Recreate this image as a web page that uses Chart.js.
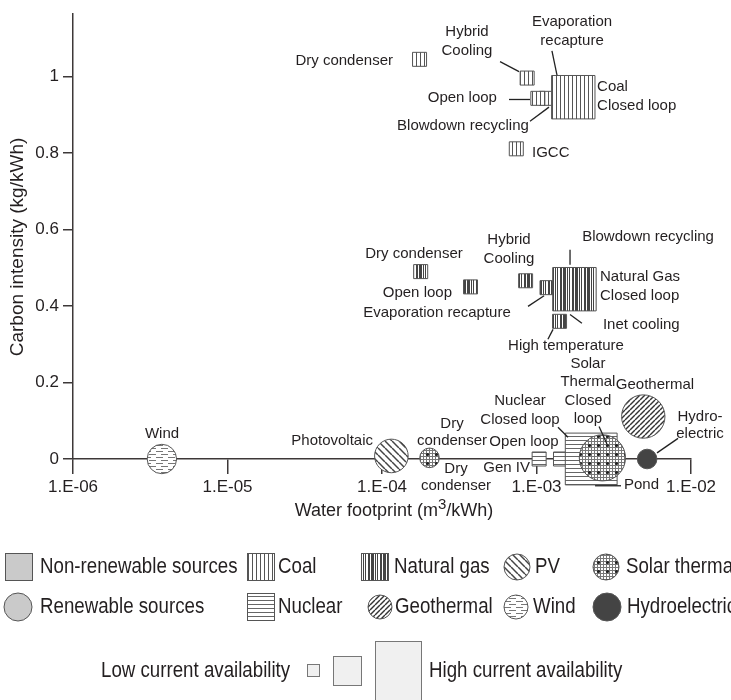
<!DOCTYPE html>
<html>
<head>
<meta charset="utf-8">
<script src="https://cdn.jsdelivr.net/npm/chart.js@4.4.0/dist/chart.umd.min.js"></script>
<style>
  html, body { margin: 0; padding: 0; background: #fff; }
  #wrap { width: 731px; height: 700px; }
</style>
</head>
<body>
<div id="wrap"><canvas id="c" width="731" height="700"></canvas></div>
<script>
// water footprint (m3/kWh), carbon intensity (kg/kWh), current availability (relative)
const coalNames = ["Dry condenser", "Hybrid cooling", "Blowdown recycling", "Open loop", "Closed loop", "IGCC"];
const coalWater = [1.75e-4, 8.7e-4, 1.16e-3, 1.02e-3, 1.73e-3, 7.4e-4];
const coalCarbon = [1.045, 0.996, 0.943, 0.943, 0.946, 0.811];
const coalAvail = [1, 1, 1, 1, 3.1, 1];

const gasNames = ["Dry condenser", "Open loop", "Hybrid cooling", "Evaporation recapture", "Closed loop", "High temperature"];
const gasWater = [1.78e-4, 3.74e-4, 8.5e-4, 1.17e-3, 1.76e-3, 1.41e-3];
const gasCarbon = [0.49, 0.45, 0.466, 0.448, 0.444, 0.36];
const gasAvail = [1, 1, 1, 1, 3.1, 1];

const nuclearNames = ["Gen IV", "Open loop", "Closed loop"];
const nuclearWater = [1.04e-3, 1.43e-3, 2.26e-3];
const nuclearCarbon = [0.0, 0.0, 0.0];
const nuclearAvail = [1, 1, 3.7];

const windWater = [3.76e-6];       const windCarbon = [0.0];     const windAvail = [2.1];
const pvWater = [1.15e-4];         const pvCarbon = [0.008];     const pvAvail = [2.4];
const solarNames = ["Dry condenser", "Closed loop"];
const solarWater = [2.03e-4, 2.67e-3]; const solarCarbon = [0.003, 0.003]; const solarAvail = [1.4, 3.3];
const geoWater = [4.91e-3];        const geoCarbon = [0.111];    const geoAvail = [3.1];
const hydroWater = [5.2e-3];       const hydroCarbon = [0.0];    const hydroAvail = [1.4];

const xTicks = [1e-6, 1e-5, 1e-4, 1e-3, 1e-2];
const xTickLabels = ["1.E-06", "1.E-05", "1.E-04", "1.E-03", "1.E-02"];
const yTicks = [0, 0.2, 0.4, 0.6, 0.8, 1];
const yTickLabels = ["0", "0.2", "0.4", "0.6", "0.8", "1"];

// annotation text: x is log10 of water footprint, y is carbon intensity
const notes = [
  { t: ["Dry condenser"], x: -3.929, y: 1.041, a: "right" },
  { t: ["Hybrid", "Cooling"], x: -3.450, y: 1.117 },
  { t: ["Evaporation", "recapture"], x: -2.770, y: 1.142 },
  { t: ["Coal", "Closed loop"], x: -2.608, y: 0.972, a: "left" },
  { t: ["Open loop"], x: -3.256, y: 0.943, a: "right" },
  { t: ["Blowdown recycling"], x: -3.476, y: 0.870 },
  { t: ["IGCC"], x: -3.029, y: 0.801, a: "left" },
  { t: ["Dry condenser"], x: -3.793, y: 0.536 },
  { t: ["Open loop"], x: -3.547, y: 0.435, a: "right" },
  { t: ["Hybrid", "Cooling"], x: -3.178, y: 0.573 },
  { t: ["Blowdown recycling"], x: -2.278, y: 0.580 },
  { t: ["Natural Gas", "Closed loop"], x: -2.589, y: 0.477, a: "left" },
  { t: ["Evaporation recapture"], x: -3.644, y: 0.381 },
  { t: ["Inet cooling"], x: -2.570, y: 0.352, a: "left" },
  { t: ["High temperature"], x: -2.809, y: 0.295 },
  { t: ["Wind"], x: -5.424, y: 0.067 },
  { t: ["Photovoltaic"], x: -4.058, y: 0.047, a: "right" },
  { t: ["Dry", "condenser"], x: -3.547, y: 0.093, lh: 17 },
  { t: ["Dry", "condenser"], x: -3.521, y: -0.026, lh: 17 },
  { t: ["Nuclear", "Closed loop"], x: -3.107, y: 0.153 },
  { t: ["Open loop"], x: -3.081, y: 0.044 },
  { t: ["Gen IV"], x: -3.042, y: -0.023, a: "right" },
  { t: ["Solar", "Thermal", "Closed", "loop"], x: -2.667, y: 0.249, lh: 18.5 },
  { t: ["Geothermal"], x: -2.233, y: 0.194 },
  { t: ["Hydro-", "electric"], x: -1.942, y: 0.111, lh: 17 },
  { t: ["Pond"], x: -2.434, y: -0.067, a: "left" }
];
const leaders = [
  [-3.236, 1.039, -3.113, 1.013],
  [-2.900, 1.067, -2.867, 1.003],
  [-3.178, 0.940, -3.042, 0.940],
  [-3.042, 0.883, -2.919, 0.920],
  [-2.783, 0.547, -2.783, 0.508],
  [-3.055, 0.399, -2.951, 0.427],
  [-2.783, 0.378, -2.706, 0.355],
  [-2.926, 0.313, -2.893, 0.339],
  [-2.861, 0.083, -2.796, 0.057],
  [-2.595, 0.085, -2.544, 0.039],
  [-2.084, 0.054, -2.220, 0.016],
  [-2.621, -0.070, -2.453, -0.070]
];

const AX = "#3d3838";
const INK = "#231f20";
const canvas = document.getElementById("c");
const ctx = canvas.getContext("2d");

function makePattern(w, h, draw) {
  const c = document.createElement("canvas");
  c.width = w; c.height = h;
  const g = c.getContext("2d");
  g.fillStyle = "#fff";
  g.fillRect(0, 0, w, h);
  draw(g);
  return ctx.createPattern(c, "repeat");
}

const pat = {
  coal: makePattern(4, 4, g => { g.fillStyle = "#555"; g.fillRect(0, 0, 1, 4); }),
  gas: makePattern(12, 4, g => {
    g.fillStyle = "#444";
    g.fillRect(0, 0, 2, 4); g.fillRect(3, 0, 1, 4); g.fillRect(5, 0, 1, 4);
    g.fillRect(8, 0, 2, 4); g.fillRect(11, 0, 1, 4);
  }),
  nuclear: makePattern(4, 4, g => { g.fillStyle = "#666"; g.fillRect(0, 0, 4, 1); }),
  pv: makePattern(7, 7, g => {
    g.strokeStyle = "#444"; g.lineWidth = 1.5;
    [-7, 0, 7].forEach(o => { g.beginPath(); g.moveTo(o, 0); g.lineTo(o + 7, 7); g.stroke(); });
  }),
  geo: makePattern(5, 5, g => {
    g.strokeStyle = "#333"; g.lineWidth = 1.4;
    [-5, 0, 5].forEach(o => { g.beginPath(); g.moveTo(o, 5); g.lineTo(o + 5, 0); g.stroke(); });
  }),
  wind: makePattern(12, 6, g => {
    g.fillStyle = "#777";
    g.fillRect(0, 1, 7, 1); g.fillRect(5, 4, 7, 1);
  }),
  solar: makePattern(9, 9, g => {
    g.fillStyle = "#777";
    [0, 3, 6].forEach(i => { g.fillRect(i, 0, 1, 9); g.fillRect(0, i, 9, 1); });
    g.fillStyle = "#222";
    g.beginPath(); g.arc(4.5, 4.5, 1.6, 0, Math.PI * 2); g.fill();
  }),
  hydro: "#444"
};

const sq = a => a * 9.9;   // rect radius so the side is about 14 px per unit
const circ = a => a * 7;   // circle radius

function pts(xs, ys) { return xs.map((x, i) => ({ x: x, y: ys[i] })); }

function ds(label, xs, ys, avail, style, fill, order) {
  return {
    label: label,
    data: pts(xs, ys),
    pointStyle: style,
    pointRadius: avail.map(style === "rect" ? sq : circ),
    pointHoverRadius: avail.map(style === "rect" ? sq : circ),
    backgroundColor: fill,
    borderColor: "#555",
    borderWidth: 1,
    order: order
  };
}

function drawLegend(c) {
  c.save();
  c.textBaseline = "middle";
  c.textAlign = "left";
  c.font = '22px "Liberation Sans", Arial, sans-serif';
  const rect = (x, y, w, h, fill, stroke) => {
    c.fillStyle = fill; c.fillRect(x, y, w, h);
    c.strokeStyle = stroke || "#555"; c.lineWidth = 1;
    c.strokeRect(x + 0.5, y + 0.5, w - 1, h - 1);
  };
  const dot = (x, y, r, fill) => {
    c.beginPath(); c.arc(x, y, r, 0, Math.PI * 2);
    c.fillStyle = fill; c.fill();
    c.strokeStyle = "#555"; c.lineWidth = 1; c.stroke();
  };
  // condensed look, like the original legend face
  const text = (s, x, y) => {
    c.save();
    c.translate(x, y);
    c.scale(0.85, 1);
    c.fillStyle = INK;
    c.fillText(s, 0, 0);
    c.restore();
  };

  rect(5, 553, 28, 28, "#cacaca");
  text("Non-renewable sources", 40, 567);
  rect(247, 553, 28, 28, pat.coal);
  text("Coal", 278, 567);
  rect(361, 553, 28, 28, pat.gas);
  text("Natural gas", 394, 567);
  dot(517, 567, 13, pat.pv);
  text("PV", 535, 567);
  dot(606, 567, 13, pat.solar);
  text("Solar thermal", 626, 567);

  dot(18, 607, 14, "#cacaca");
  text("Renewable sources", 40, 607);
  rect(247, 593, 28, 28, pat.nuclear);
  text("Nuclear", 278, 607);
  dot(380, 607, 12, pat.geo);
  text("Geothermal", 395, 607);
  dot(516, 607, 12, pat.wind);
  text("Wind", 533, 607);
  dot(607, 607, 14, pat.hydro);
  text("Hydroelectric", 627, 607);

  text("Low current availability", 101, 671);
  rect(307, 664, 13, 13, "#f0f0f0", "#777");
  rect(333, 656, 29, 30, "#f0f0f0", "#777");
  rect(375, 641, 47, 62, "#f0f0f0", "#777");
  text("High current availability", 429, 671);
  c.restore();
}

const overlay = {
  id: "overlay",
  afterDraw(chart) {
    const c = chart.ctx;
    const xs = chart.scales.x, ys = chart.scales.y;
    const px = lx => xs.getPixelForValue(Math.pow(10, lx));
    c.save();
    c.strokeStyle = "#222";
    c.lineWidth = 1.3;
    leaders.forEach(l => {
      c.beginPath();
      c.moveTo(px(l[0]), ys.getPixelForValue(l[1]));
      c.lineTo(px(l[2]), ys.getPixelForValue(l[3]));
      c.stroke();
    });
    c.fillStyle = INK;
    c.font = '15px "Liberation Sans", Arial, sans-serif';
    c.textBaseline = "middle";
    notes.forEach(n => {
      c.textAlign = n.a || "center";
      const x = px(n.x), y = ys.getPixelForValue(n.y);
      n.t.forEach((s, i) => c.fillText(s, x, y + i * (n.lh || 19)));
    });

    // axis titles
    c.font = '18px "Liberation Sans", Arial, sans-serif';
    c.textAlign = "left";
    const a = "Water footprint (m", b = "3", d = "/kWh)";
    const wa = c.measureText(a).width, wd = c.measureText(d).width;
    c.font = '15px "Liberation Sans", Arial, sans-serif';
    const wb = c.measureText(b).width;
    let x0 = 394 - (wa + wb + wd) / 2;
    c.font = '18px "Liberation Sans", Arial, sans-serif';
    c.fillText(a, x0, 511);
    c.font = '15px "Liberation Sans", Arial, sans-serif';
    c.fillText(b, x0 + wa, 505);
    c.font = '18px "Liberation Sans", Arial, sans-serif';
    c.fillText(d, x0 + wa + wb, 511);

    c.translate(18, 247);
    c.rotate(-Math.PI / 2);
    c.textAlign = "center";
    c.font = '19px "Liberation Sans", Arial, sans-serif';
    c.fillText("Carbon intensity (kg/kWh)", 0, 0);
    c.restore();

    drawLegend(c);
  }
};

new Chart(ctx, {
  type: "scatter",
  data: {
    datasets: [
      ds("Hydroelectric", hydroWater, hydroCarbon, hydroAvail, "circle", pat.hydro, 1),
      ds("Geothermal", geoWater, geoCarbon, geoAvail, "circle", pat.geo, 2),
      ds("Solar thermal", solarWater, solarCarbon, solarAvail, "circle", pat.solar, 3),
      ds("PV", pvWater, pvCarbon, pvAvail, "circle", pat.pv, 4),
      ds("Wind", windWater, windCarbon, windAvail, "circle", pat.wind, 5),
      ds("Nuclear", nuclearWater, nuclearCarbon, nuclearAvail, "rect", pat.nuclear, 6),
      ds("Natural gas", gasWater, gasCarbon, gasAvail, "rect", pat.gas, 7),
      ds("Coal", coalWater, coalCarbon, coalAvail, "rect", pat.coal, 8)
    ]
  },
  options: {
    responsive: false,
    animation: false,
    events: [],
    clip: false,
    layout: { autoPadding: false, padding: { top: 10, right: 40, left: 0, bottom: 0 } },
    plugins: { legend: { display: false }, tooltip: { enabled: false } },
    scales: {
      x: {
        type: "logarithmic",
        min: 1e-6,
        max: 1e-2,
        afterBuildTicks: s => { s.ticks = xTicks.map(v => ({ value: v })); },
        afterFit: s => { s.height = 241; },
        ticks: {
          callback: (v, i) => xTickLabels[i],
          font: { family: '"Liberation Sans", Arial, sans-serif', size: 17 },
          color: INK, padding: 3, maxRotation: 0, autoSkip: false
        },
        grid: { drawOnChartArea: false, tickLength: 15, color: AX, lineWidth: 1.5 },
        border: { color: AX, width: 1.5 }
      },
      y: {
        min: 0,
        max: 1.163,
        afterBuildTicks: s => { s.ticks = yTicks.map(v => ({ value: v })); },
        afterFit: s => { s.width = 73; },
        ticks: {
          callback: (v, i) => yTickLabels[i],
          font: { family: '"Liberation Sans", Arial, sans-serif', size: 17 },
          color: INK, padding: 4
        },
        grid: { drawOnChartArea: false, tickLength: 10, color: AX, lineWidth: 1.5 },
        border: { color: AX, width: 1.5 }
      }
    }
  },
  plugins: [overlay]
});
</script>
</body>
</html>
